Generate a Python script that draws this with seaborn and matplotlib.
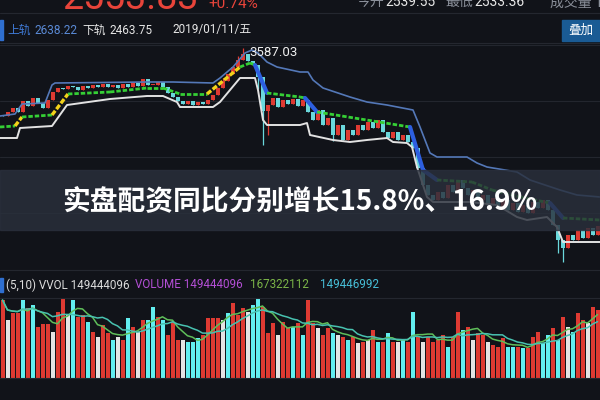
import numpy as np
import pandas as pd
import matplotlib
matplotlib.use("Agg")
import matplotlib.pyplot as plt
from matplotlib.patches import Rectangle
import seaborn as sns

# ---- price candles (close), open of first day; open = previous close
first_open = 3250
close = [
    3245, 3265, 3285, 3265, 3320, 3295, 3335, 3310, 3285, 3325,
    3365, 3385, 3380, 3395, 3390, 3375, 3395, 3385, 3400, 3390,
    3405, 3390, 3400, 3385, 3405, 3390, 3410, 3395, 3430, 3400,
    3400, 3415, 3390, 3360, 3340, 3320, 3305, 3320, 3300, 3315,
    3305, 3325, 3350, 3385, 3420, 3455, 3490, 3525, 3555, 3520,
    3500, 3440, 3270, 3300, 3335, 3290, 3325, 3305, 3330, 3295,
    3325, 3265, 3225, 3275, 3200, 3235, 3150, 3200, 3125, 3175,
    3150, 3200, 3175, 3215, 3185, 3225, 3165, 3135, 3165, 3125,
    3150, 3115, 3085, 2985, 2900, 2850, 2825, 2865, 2835, 2900,
    2865, 2925, 2885, 2850, 2875, 2825, 2850, 2800, 2835, 2785,
    2825, 2775, 2810, 2765, 2800, 2760, 2815, 2785, 2825, 2775,
    2700, 2625, 2585, 2650, 2625, 2675, 2635, 2685, 2650, 2695,
]
wick_high = {48: 3587.03, 47: 3545, 44: 3435}
wick_low = {51: 3380, 52: 3100, 53: 3150, 111: 2560, 112: 2515, 66: 3120}

# ---- bands (knots: day index, price)
upper_x = [-0.5, 2.5, 3.9, 8.5, 9.9, 10.5, 28.9, 34.1, 42.1, 43.5, 46.1, 48.5, 49.9,
           51.1, 52.9, 54.9, 59.5, 61.1, 62.1, 64.1, 69.5, 72.9, 76.9, 82.1, 83.5,
           85.5, 86.9, 92.9, 94.9, 96.9, 102.9, 105.5, 111.5, 114.9, 119.5]
upper_y = [3245, 3255, 3305, 3310, 3400, 3410, 3415, 3415, 3410, 3435, 3490, 3560, 3575,
           3560, 3515, 3490, 3465, 3465, 3425, 3385, 3340, 3315, 3300, 3275, 3190,
           3060, 3040, 3040, 3010, 2990, 2965, 2925, 2875, 2850, 2840]
lower_x = [-0.5, 2.9, 3.5, 9.9, 12.9, 21.5, 28.9, 32.1, 34.9, 35.5, 42.1, 43.5, 47.5,
           50.5, 51.1, 52.1, 52.9, 59.5, 60.9, 61.5, 66.1, 69.5, 72.9, 76.9, 78.1,
           80.9, 81.9, 82.9, 84.9, 86.1, 93.5, 98.9, 102.9, 104.9, 108.9, 110.9, 112.1, 119.5]
lower_y = [3135, 3135, 3185, 3195, 3300, 3330, 3345, 3345, 3315, 3290, 3290, 3315, 3435,
           3435, 3375, 3225, 3200, 3200, 3210, 3150, 3125, 3115, 3125, 3135, 3115,
           3110, 3090, 2990, 2840, 2815, 2815, 2800, 2740, 2725, 2740, 2690, 2615, 2615]
mid_x = [-0.5, 2.5, 3.9, 9.9, 13.1, 21.5, 28.9, 32.1, 35.5, 40.9, 47.5, 49.5, 50.5,
         52.9, 59.5, 60.5, 62.9, 81.5, 84.1, 86.9, 93.9, 97.9, 103.5, 109.5, 112.1, 119.5]
mid_y = [3190, 3195, 3240, 3250, 3355, 3365, 3385, 3385, 3355, 3355, 3490, 3510, 3500,
         3360, 3340, 3335, 3265, 3190, 2975, 2925, 2915, 2875, 2840, 2810, 2735, 2725]

# ---- volume (millions) and bar colour kind
volume = [
    195, 145, 162, 162, 195, 175, 182, 128, 135, 135,
    115, 165, 200, 158, 195, 152, 158, 140, 115, 102,
    132, 112, 95, 102, 95, 150, 128, 115, 145, 145,
    178, 152, 145, 108, 140, 95, 95, 90, 90, 100,
    108, 150, 150, 150, 145, 162, 188, 158, 175, 165,
    182, 200, 178, 112, 138, 108, 140, 125, 128, 138,
    108, 195, 138, 125, 108, 125, 112, 108, 102, 95,
    102, 88, 90, 95, 120, 90, 90, 112, 90, 90,
    95, 90, 165, 102, 90, 102, 90, 95, 108, 78,
    102, 165, 120, 128, 95, 112, 108, 90, 82, 78,
    100, 78, 78, 78, 75, 75, 102, 115, 88, 108,
    125, 95, 152, 128, 115, 162, 145, 138, 178, 170,
]
vol_kind = list(
    "rwrrcrcrrr" "wrrwcrrcrw" "rrcwrcrwrc" "crcrrrwccc"
    "rrrrwcrrrw" "ccrrrwrrcr" "crrwrrcwrc" "rwrwrcrcrw"
    "crcrwrrrrc" "rrcrwrrwrr" "rccrcrrrcc" "rcrwcrrwrr"
)

BG = "#111319"
RED = "#de3a32"
CYAN = "#62eef0"
WHITE = "#e4e4e4"

sns.set_theme(style="dark")
plt.rcParams["font.family"] = ["Roboto", "Noto Sans CJK SC", "DejaVu Sans"]

fig = plt.figure(figsize=(6, 4), dpi=100, facecolor=BG)
ax = fig.add_axes([0, 0.3375, 1, 0.555])
axv = fig.add_axes([0, 0.055, 1, 0.2])
for a in (ax, axv):
    a.set_facecolor(BG)
    a.set_xticks([])
    a.set_yticks([])
    for s in a.spines.values():
        s.set_visible(False)
    a.grid(False)

# price grid
for g in [3600, 3320, 3040, 2760]:
    ax.axhline(g, color="#23262e", lw=0.8, zorder=0)

# candles
n = len(close)
idx = np.arange(n)
opens = [first_open] + close[:-1]
bottoms, heights, ccols = [], [], []
for o, c in zip(opens, close):
    bottoms.append(min(o, c))
    heights.append(max(abs(c - o), 4))
    ccols.append(RED if c >= o else "#6ad8dc")
for i in idx:
    hi = wick_high.get(i, max(opens[i], close[i]))
    lo = wick_low.get(i, min(opens[i], close[i]))
    ax.vlines(i, lo, hi, color=ccols[i], lw=0.9, zorder=2)
ax.bar(idx, heights, bottom=bottoms, width=0.8, color=ccols, edgecolor="none",
       linewidth=0, zorder=2)

# bands
sns.lineplot(x=upper_x, y=upper_y, ax=ax, color="#5478b8", lw=1.2, zorder=3)
sns.lineplot(x=lower_x, y=lower_y, ax=ax, color="#e2e2e2", lw=1.4, zorder=3)
for k in range(len(mid_x) - 1):
    slope = (mid_y[k + 1] - mid_y[k]) / (mid_x[k + 1] - mid_x[k])
    seg_x = mid_x[k:k + 2]
    seg_y = mid_y[k:k + 2]
    if slope > 12.5:
        ax.plot(seg_x, seg_y, color="#f3d21a", lw=2.4, ls=(0, (1.6, 0.6)), zorder=4)
    elif slope < -12.5:
        ax.plot(seg_x, seg_y, color="#2d5fe0", lw=3, zorder=4, solid_capstyle="round")
    else:
        ax.plot(seg_x, seg_y, color="#35cf35", lw=2, ls=(0, (1.6, 0.7)), zorder=4)
ax.set_xlim(-0.5, 119.5)
ax.set_ylim(2500, 3610)
ax.set_xlabel("")
ax.set_ylabel("")
ax.text(49.3, 3560, "3587.03", color="#f0f0f0", fontsize=9.5, va="center", ha="left")

# volume
vdf = pd.DataFrame({"day": idx, "vol": volume, "kind": vol_kind})
vcol = {"r": RED, "c": CYAN, "w": WHITE}
axv.bar(vdf["day"], vdf["vol"], width=0.8, color=[vcol[k] for k in vdf["kind"]],
        edgecolor="none", linewidth=0, zorder=2)
ma5 = vdf["vol"].rolling(5, min_periods=1).mean()
ma10 = vdf["vol"].rolling(10, min_periods=1).mean()
sns.lineplot(x=idx, y=ma5, ax=axv, color="#5fbf5a", lw=1.1, zorder=3)
sns.lineplot(x=idx, y=ma10, ax=axv, color="#48c2b0", lw=1.1, zorder=3)
axv.set_ylim(0, 200)
axv.set_xlim(-0.5, 119.5)
axv.set_xlabel("")
axv.set_ylabel("")

# separators
for yp in [13, 43, 270, 298, 378]:
    fig.add_artist(plt.Line2D([0, 1], [1 - yp / 400] * 2, color="#24272f", lw=0.8,
                              transform=fig.transFigure))

# header (top row partially cut off, as in the screenshot)
fig.text(0.103, 0.978, "2553.83", color="#e8443a", fontsize=27, va="baseline")
fig.text(0.347, 0.981, "+0.74%", color="#e8443a", fontsize=11, va="baseline")
fig.text(0.595, 0.984, "今开", color="#8a8f99", fontsize=10, va="baseline")
fig.text(0.643, 0.984, "2539.55", color="#e6e6e6", fontsize=10, va="baseline")
fig.text(0.742, 0.984, "最低", color="#8a8f99", fontsize=10, va="baseline")
fig.text(0.79, 0.984, "2533.36", color="#e6e6e6", fontsize=10, va="baseline")
fig.text(0.917, 0.984, "成交量 1.49亿", color="#8a8f99", fontsize=10, va="baseline")

fig.add_artist(Rectangle((0, 0.9), 0.005, 0.05, color="#2f6fd0", transform=fig.transFigure))
fig.text(0.013, 0.925, "上轨", color="#3f7ad6", fontsize=8.5, va="center")
fig.text(0.058, 0.925, "2638.22", color="#5a8ad6", fontsize=8.5, va="center")
fig.text(0.138, 0.925, "下轨", color="#e6e6e6", fontsize=8.5, va="center")
fig.text(0.183, 0.925, "2463.75", color="#e6e6e6", fontsize=8.5, va="center")
fig.text(0.288, 0.925, "2019/01/11/五", color="#e6e6e6", fontsize=8.5, va="center")
fig.add_artist(Rectangle((0.9367, 0.8975), 0.07, 0.0525, color="#1a5b94",
                         transform=fig.transFigure))
fig.text(0.968, 0.924, "叠加", color="white", fontsize=9, va="center", ha="center")

# volume labels
fig.add_artist(Rectangle((0, 0.27), 0.005, 0.035, color="#2f6fd0", transform=fig.transFigure))
fig.text(0.01, 0.2875, "(5,10) VVOL 149444096", color="#dcdcdc", fontsize=8.4, va="center")
fig.text(0.225, 0.2875, "VOLUME 149444096", color="#b44fd6", fontsize=8.4, va="center")
fig.text(0.4167, 0.2875, "167322112", color="#7bb548", fontsize=8.4, va="center")
fig.text(0.533, 0.2875, "149446992", color="#47bfd8", fontsize=8.4, va="center")

# banner overlay
fig.add_artist(Rectangle((0, 0.425), 1, 0.15, color="#2a303c", alpha=0.82,
                         transform=fig.transFigure, zorder=5))
fig.text(0.5, 0.495, "实盘配资同比分别增长15.8%、16.9%", color="white", fontsize=20,
         fontweight="bold", ha="center", va="center", zorder=6,
         family=["Noto Sans CJK SC", "DejaVu Sans"])

fig.savefig("out.png", dpi=100, facecolor=BG)
